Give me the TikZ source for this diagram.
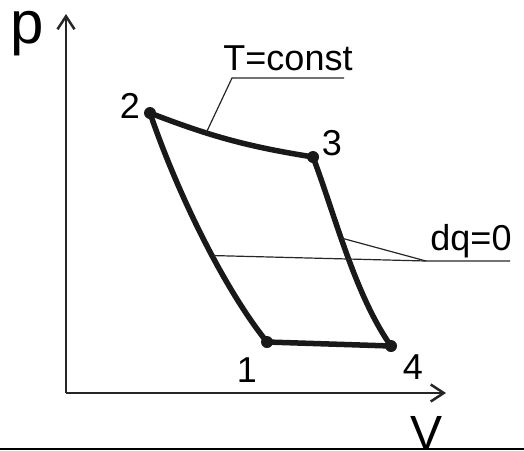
\documentclass[tikz,border=0pt]{standalone}
\usepackage{fontspec}
\setmainfont{Liberation Sans}
\usetikzlibrary{arrows.meta}

\begin{document}
\begin{tikzpicture}[
    x=1pt,y=-1pt,
    >={Straight Barb[length=13pt,width=17pt]},
    axis/.style={->,line width=2.5pt,draw=black!85},
    cycle/.style={line width=5.5pt,draw=black!90,line cap=round},
    leader/.style={line width=1.2pt,draw=black!85},
    state/.style={circle,fill=black!90,inner sep=0pt,minimum size=12pt},
    statelabel/.style={font=\fontsize{36}{36}\selectfont,inner sep=0pt,anchor=base},
    axislabel/.style={font=\fontsize{60}{60}\selectfont,inner sep=0pt,anchor=base}
  ]
    \useasboundingbox (0,0) rectangle (524,450);

    \coordinate (origin) at (66,393);
    \coordinate (ptop) at (66,14);
    \coordinate (vend) at (446,393);
    \draw[axis] (origin) -- (ptop);
    \draw[axis] (origin) -- (vend);
    \node[axislabel] (plabel) at (27,43) {p};
    \node[axislabel,font=\fontsize{48}{48}\selectfont] (vlabel) at (427,449) {V};

    \node[state] (s1) at (267,342) {};
    \node[state] (s2) at (150,113) {};
    \node[state] (s3) at (313,157) {};
    \node[state] (s4) at (391,346) {};
    \node[statelabel] (n1) at (247,382) {1};
    \node[statelabel] (n2) at (130,118) {2};
    \node[statelabel] (n3) at (332,155) {3};
    \node[statelabel] (n4) at (413,379) {4};

    \draw[cycle] (s2.center) to[bend right=6] coordinate[pos=0.34] (isotherm) (s3.center);
    \draw[cycle] (s2.center) .. controls (178,195) and (225,290) .. coordinate[pos=0.57] (adiabatA) (s1.center);
    \draw[cycle] (s3.center) .. controls (335,215) and (355,295) .. coordinate[pos=0.42] (adiabatB) (s4.center);
    \draw[cycle] (s1.center) -- (s4.center);

    \coordinate (tknee) at (232,78);
    \coordinate (tend) at (344,78);
    \draw[leader] (isotherm) -- (tknee) -- (tend);
    \node[statelabel] (tlabel) at (288,70) {T=const};

    \coordinate (qknee) at (426,261);
    \coordinate (qend) at (510,261);
    \draw[leader] (adiabatA) -- (qknee) -- (qend);
    \draw[leader] (adiabatB) -- (qknee);
    \node[statelabel] (qlabel) at (471,250) {dq=0};

    \fill[black] (0,447.5) rectangle (524,450);
  \end{tikzpicture}
\end{document}
